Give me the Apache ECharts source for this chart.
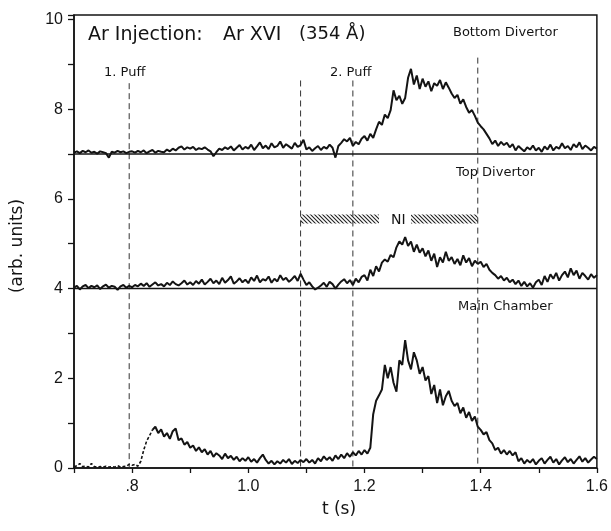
<!DOCTYPE html>
<html>
<head>
<meta charset="utf-8">
<script src="https://cdn.jsdelivr.net/npm/echarts@6/dist/echarts.min.js"></script>
<style>html,body{margin:0;padding:0;background:#fff}#c{width:611px;height:531px}</style>
</head>
<body>
<div id="c"></div>
<script>
// time base (s)
const times = [
0.700,0.705,0.710,0.715,0.720,0.725,0.730,0.735,0.740,0.745,0.750,0.755,0.760,0.765,0.770,0.775,0.780,0.785,0.790,0.795,
0.800,0.805,0.810,0.815,0.820,0.825,0.830,0.835,0.840,0.845,0.850,0.855,0.860,0.865,0.870,0.875,0.880,0.885,0.890,0.895,
0.900,0.905,0.910,0.915,0.920,0.925,0.930,0.935,0.940,0.945,0.950,0.955,0.960,0.965,0.970,0.975,0.980,0.985,0.990,0.995,
1.000,1.005,1.010,1.015,1.020,1.025,1.030,1.035,1.040,1.045,1.050,1.055,1.060,1.065,1.070,1.075,1.080,1.085,1.090,1.095,
1.100,1.105,1.110,1.115,1.120,1.125,1.130,1.135,1.140,1.145,1.150,1.155,1.160,1.165,1.170,1.175,1.180,1.185,1.190,1.195,
1.200,1.205,1.210,1.215,1.220,1.225,1.230,1.235,1.240,1.245,1.250,1.255,1.260,1.265,1.270,1.275,1.280,1.285,1.290,1.295,
1.300,1.305,1.310,1.315,1.320,1.325,1.330,1.335,1.340,1.345,1.350,1.355,1.360,1.365,1.370,1.375,1.380,1.385,1.390,1.395,
1.400,1.405,1.410,1.415,1.420,1.425,1.430,1.435,1.440,1.445,1.450,1.455,1.460,1.465,1.470,1.475,1.480,1.485,1.490,1.495,
1.500,1.505,1.510,1.515,1.520,1.525,1.530,1.535,1.540,1.545,1.550,1.555,1.560,1.565,1.570,1.575,1.580,1.585,1.590,1.595,1.600
];
// Bottom Divertor trace (plotted on offset 7)
const bottomDivertor = [
7.03,7.06,7.02,7.07,7.04,7.08,7.03,7.05,7.01,7.06,7.04,7.02,6.92,7.05,7.03,7.07,7.04,7.06,7.02,7.05,
7.06,7.03,7.07,7.04,7.08,7.02,7.06,7.09,7.03,7.07,7.05,7.04,7.10,7.06,7.12,7.08,7.14,7.17,7.10,7.15,
7.12,7.16,7.09,7.13,7.11,7.15,7.10,7.06,6.95,7.04,7.12,7.09,7.15,7.11,7.17,7.08,7.14,7.20,7.10,7.16,
7.12,7.21,7.09,7.17,7.26,7.13,7.19,7.11,7.24,7.15,7.18,7.28,7.14,7.22,7.17,7.12,7.25,7.16,7.20,7.32,
7.10,7.15,7.07,7.13,7.18,7.09,7.16,7.12,7.21,7.14,6.92,7.18,7.25,7.33,7.28,7.36,7.18,7.27,7.22,7.34,
7.40,7.30,7.45,7.36,7.55,7.72,7.65,7.88,7.80,7.98,8.42,8.20,8.30,8.12,8.25,8.70,8.90,8.55,8.75,8.45,
8.68,8.50,8.62,8.40,8.58,8.52,8.65,8.45,8.60,8.48,8.35,8.25,8.32,8.12,8.22,8.05,7.92,7.98,7.85,7.70,
7.62,7.55,7.45,7.35,7.22,7.30,7.18,7.27,7.20,7.25,7.15,7.22,7.08,7.18,7.12,7.06,7.15,7.10,7.19,7.08,
7.14,7.05,7.17,7.10,7.21,7.08,7.16,7.12,7.24,7.13,7.18,7.09,7.22,7.15,7.26,7.11,7.19,7.14,7.08,7.16,7.12
];
// Top Divertor trace (plotted on offset 4)
const topDivertor = [
4.02,4.06,3.98,4.05,4.08,4.01,4.06,4.03,4.07,3.99,4.05,4.09,4.02,4.06,4.04,3.97,4.05,4.08,4.02,4.06,
4.03,4.08,4.05,4.11,4.06,4.12,4.04,4.09,4.14,4.07,4.10,4.05,4.13,4.08,4.16,4.10,4.07,4.12,4.18,4.09,
4.14,4.08,4.17,4.11,4.20,4.09,4.15,4.22,4.12,4.18,4.10,4.24,4.13,4.19,4.27,4.11,4.16,4.23,4.14,4.20,
4.12,4.25,4.17,4.29,4.14,4.21,4.18,4.27,4.13,4.22,4.16,4.30,4.19,4.24,4.15,4.21,4.28,4.17,4.33,4.20,
4.08,4.14,4.05,3.98,4.02,4.07,4.13,4.04,4.15,4.10,4.00,4.09,4.16,4.21,4.12,4.19,4.08,4.22,4.14,4.26,
4.30,4.18,4.42,4.28,4.50,4.38,4.58,4.65,4.60,4.75,4.70,4.92,5.05,4.98,5.15,4.95,5.05,4.82,4.98,4.80,
4.90,4.72,4.85,4.62,4.78,4.48,4.70,4.58,4.82,4.62,4.70,4.55,4.66,4.52,4.74,4.58,4.68,4.50,4.62,4.55,
4.60,4.48,4.55,4.42,4.35,4.30,4.22,4.28,4.18,4.24,4.14,4.20,4.10,4.18,4.06,4.15,4.05,4.12,4.02,4.14,
4.20,4.08,4.28,4.15,4.32,4.22,4.35,4.18,4.30,4.38,4.25,4.45,4.30,4.40,4.22,4.35,4.28,4.20,4.32,4.24,4.30
];
// Main Chamber trace (offset 0); first part up to index mainLeadEnd is drawn dashed
const mainChamber = [
0.03,0.05,0.10,0.03,0.04,0.02,0.10,0.03,0.02,0.03,0.02,0.04,0.02,0.03,0.02,0.05,0.02,0.03,0.04,0.08,
0.06,0.08,0.04,0.15,0.40,0.60,0.72,0.85,0.92,0.78,0.86,0.70,0.78,0.65,0.82,0.88,0.62,0.66,0.52,0.58,
0.45,0.50,0.38,0.46,0.35,0.42,0.30,0.38,0.25,0.33,0.28,0.20,0.32,0.22,0.27,0.18,0.25,0.15,0.22,0.16,
0.24,0.14,0.20,0.12,0.22,0.30,0.18,0.10,0.16,0.08,0.15,0.10,0.18,0.12,0.20,0.09,0.16,0.11,0.18,0.13,
0.20,0.12,0.18,0.10,0.22,0.15,0.26,0.18,0.24,0.16,0.28,0.20,0.30,0.22,0.33,0.25,0.35,0.28,0.38,0.30,
0.40,0.32,0.45,1.20,1.50,1.62,1.75,2.30,2.00,2.25,1.90,1.70,2.40,2.30,2.85,2.40,2.20,2.58,2.40,2.10,
2.25,1.95,2.05,1.65,1.85,1.45,1.75,1.40,1.60,1.72,1.50,1.38,1.45,1.22,1.35,1.12,1.25,1.05,1.15,0.92,
0.85,0.75,0.80,0.62,0.55,0.40,0.45,0.32,0.40,0.30,0.38,0.28,0.35,0.15,0.22,0.10,0.18,0.12,0.20,0.08,
0.16,0.22,0.10,0.18,0.25,0.12,0.20,0.08,0.17,0.24,0.13,0.20,0.10,0.18,0.26,0.14,0.22,0.12,0.19,0.25,0.20
];
const mainLeadEnd = 27;
// panel separators
const panelBaselines = [7, 4];
// vertical dashed markers
const markerTimes = [0.795, 1.09, 1.18, 1.395];
const markerTops = [8.58, 8.64, 8.64, 9.15];
// NI heating interval bars
const niBarStarts = [1.09, 1.28];
const niBarEnds = [1.225, 1.395];
const niBarLow = 5.45, niBarHigh = 5.65;
// tick labels
const xTickValues = [0.8, 1.0, 1.2, 1.4, 1.6];
const xTickText = ['.8', '1.0', '1.2', '1.4', '1.6'];
const yTickValues = [0, 2, 4, 6, 8, 10];

const ink = '#141414';
const pair = (arr, a, b) => arr.slice(a, b).map((v, i) => [times[a + i], v]);

// hatch pattern
const pc = document.createElement('canvas');
pc.width = 4; pc.height = 4;
const g = pc.getContext('2d');
g.strokeStyle = '#222'; g.lineWidth = 1.1;
g.beginPath(); g.moveTo(0, 0); g.lineTo(4, 4); g.moveTo(3, -1); g.lineTo(5, 1); g.moveTo(-1, 3); g.lineTo(1, 5); g.stroke();

const series = [];
panelBaselines.forEach(b => series.push({
  type: 'line', data: [[0.7, b], [1.6, b]], symbol: 'none', silent: true,
  lineStyle: {color: ink, width: 1.5}, z: 3
}));
markerTimes.forEach((t, i) => series.push({
  type: 'line', data: [[t, markerTops[i]], [t, 0]], symbol: 'none', silent: true,
  lineStyle: {color: '#333', width: 1, type: [6, 4]}, z: 2
}));
series.push({
  type: 'custom', silent: true, z: 2,
  data: niBarStarts.map((s, i) => [s, niBarEnds[i]]),
  renderItem: (params, api) => {
    const p0 = api.coord([api.value(0), niBarHigh]);
    const p1 = api.coord([api.value(1), niBarLow]);
    return {type: 'rect', shape: {x: p0[0], y: p0[1], width: p1[0] - p0[0], height: p1[1] - p0[1]},
      style: {fill: {image: pc, repeat: 'repeat'}, stroke: null}};
  }
});
series.push({type: 'line', data: pair(bottomDivertor, 0, times.length), symbol: 'none', lineStyle: {color: ink, width: 2}, z: 4});
series.push({type: 'line', data: pair(topDivertor, 0, times.length), symbol: 'none', lineStyle: {color: ink, width: 2}, z: 4});
series.push({type: 'line', data: pair(mainChamber, 0, mainLeadEnd + 1), symbol: 'none', lineStyle: {color: ink, width: 1.6, type: [3, 2]}, z: 4});
series.push({type: 'line', data: pair(mainChamber, mainLeadEnd, times.length), symbol: 'none', lineStyle: {color: ink, width: 2}, z: 4});

const txt = (text, x, y, size, extra) => Object.assign({
  type: 'text', x: x, y: y, silent: true,
  style: {text: text, font: size + 'px "DejaVu Sans"', fill: ink, align: 'left', verticalAlign: 'middle'}
}, extra || {});

const chart = echarts.init(document.getElementById('c'));
chart.setOption({
  animation: false,
  backgroundColor: '#fff',
  grid: {left: 74, right: 14, top: 15, bottom: 63, show: true, borderColor: ink, borderWidth: 1.5, backgroundColor: 'transparent'},
  xAxis: {
    type: 'value', min: 0.7, max: 1.6, interval: 0.1,
    axisLine: {lineStyle: {color: ink, width: 1.5}},
    axisTick: {inside: false, length: 5, lineStyle: {color: ink, width: 1.3}},
    splitLine: {show: false},
    axisLabel: {
      margin: 11, color: ink, fontSize: 16, fontFamily: 'Liberation Sans',
      formatter: v => { const k = xTickValues.findIndex(x => Math.abs(x - v) < 1e-6); return k >= 0 ? xTickText[k] : ''; }
    }
  },
  yAxis: {
    type: 'value', min: 0, max: 10.1, interval: 1,
    axisLine: {show: true, lineStyle: {color: ink, width: 1.5}},
    axisTick: {show: true, inside: false, length: 6, lineStyle: {color: ink, width: 1.3}},
    splitLine: {show: false},
    axisLabel: {
      margin: 11, color: ink, fontSize: 16, fontFamily: 'Liberation Sans',
      formatter: v => { const k = yTickValues.findIndex(y => Math.abs(y - v) < 1e-6); return k >= 0 ? String(yTickValues[k]) : ''; }
    }
  },
  series: series,
  graphic: [
    txt('Ar Injection:', 88, 35, 19),
    txt('Ar XVI', 223, 35, 19),
    txt('(354 Å)', 299, 34, 18),
    txt('Bottom Divertor', 453, 33, 13),
    txt('Top Divertor', 456, 173, 13),
    txt('Main Chamber', 458, 307, 13),
    txt('1. Puff', 104, 73, 13),
    txt('2. Puff', 330, 73, 13),
    txt('NI', 391, 220, 14),
    txt('t (s)', 339, 510, 17, {style: {text: 't (s)', font: '17px "DejaVu Sans"', fill: ink, align: 'center', verticalAlign: 'middle'}}),
    txt('(arb. units)', 18, 246, 17, {rotation: Math.PI / 2, style: {text: '(arb. units)', font: '17px "DejaVu Sans"', fill: ink, align: 'center', verticalAlign: 'middle'}})
  ]
});
</script>
</body>
</html>
